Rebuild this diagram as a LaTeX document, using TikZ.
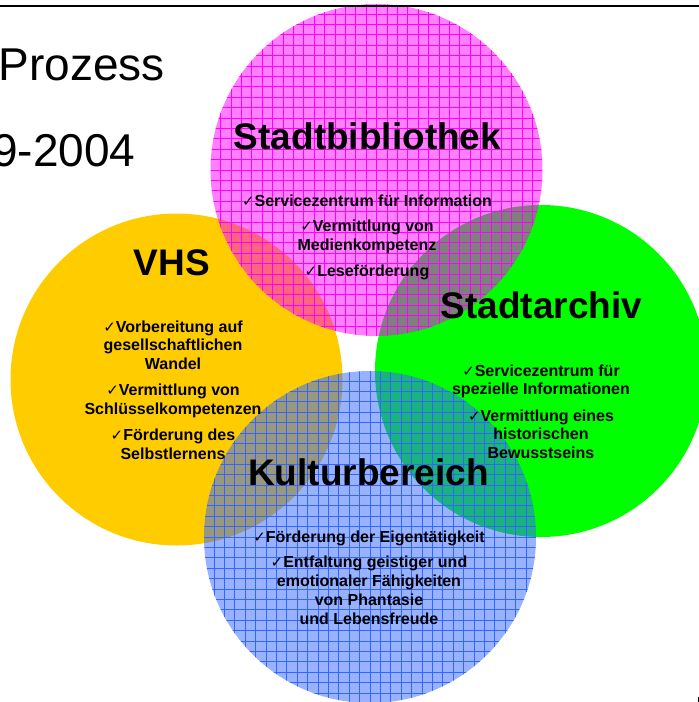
\documentclass[tikz,border=0pt]{standalone}
\usepackage{fontspec}
\setmainfont{Liberation Sans}
\newfontfamily\ckfont{DejaVu Sans}
\usetikzlibrary{positioning}
\definecolor{Gelb}{RGB}{255,204,0}
\definecolor{Gruen}{RGB}{0,255,0}
\definecolor{Pink}{RGB}{255,0,255}
\definecolor{Blau}{RGB}{51,102,255}
\newcommand{\ck}{{\ckfont\fontsize{15}{15}\selectfont ✓}}

\begin{document}
\begin{tikzpicture}[x=1pt,y=-1pt,
    kreis/.style={circle,inner sep=0pt,minimum size=332pt},
    gitter/.style={fill=#1,fill opacity=0.5,path picture={\draw[#1,line width=0.7pt,step=10.4pt] (path picture bounding box.south west) grid (path picture bounding box.north east);}},
    titel/.style={anchor=base,font=\fontsize{37}{40}\selectfont\bfseries},
    liste/.style={anchor=north,inner sep=0pt,align=center,font=\fontsize{16}{18.7}\selectfont\bfseries},
    kopf/.style={anchor=base west,inner sep=0pt,font=\fontsize{46}{50}\selectfont}
  ]
  \useasboundingbox (0,0) rectangle (699,702);
  \node[kreis,fill=Gelb] (vhs) at (176.5,379.5) {};
  \node[kreis,fill=Gruen] (arch) at (541,371) {};
  \node[kreis,gitter=Pink] (bib) at (376.5,170) {};
  \node[kreis,gitter=Blau] (kult) at (370,537) {};
  \draw[line width=2pt] (0,6) -- (699,6);
  \draw[line width=1.3pt] (698.3,697) -- (698.3,702);
  \node[kopf] (proz) at (-1.5,80) {Prozess};
  \node[kopf] (jahr) at (-8,166) {9-2004};
  \node[titel] (bibT) at (367.5,149) {Stadtbibliothek};
  \node[titel] (vhsT) at (172,275) {VHS};
  \node[titel] (archT) at (541.5,318) {Stadtarchiv};
  \node[titel] (kultT) at (368.5,485) {Kulturbereich};
  \node[liste] (bibL) at (367,191) {\rule{0pt}{15pt}\ck Servicezentrum für Information\\[7pt]\ck Vermittlung von\\Medienkompetenz\\[7pt]\ck Leseförderung};
  \node[liste] (vhsL) at (173,317) {\rule{0pt}{15pt}\ck Vorbereitung auf\\gesellschaftlichen\\Wandel\\[7.5pt]\ck Vermittlung von\\Schlüsselkompetenzen\\[7.5pt]\ck Förderung des\\Selbstlernens};
  \node[liste] (archL) at (541,361) {\rule{0pt}{15pt}\ck Servicezentrum für\\spezielle Informationen\\[7.5pt]\ck Vermittlung eines\\historischen\\Bewusstseins};
  \node[liste] (kultL) at (369,527) {\rule{0pt}{15pt}\ck Förderung der Eigentätigkeit\\[7pt]\ck Entfaltung geistiger und\\emotionaler Fähigkeiten\\von Phantasie\\und Lebensfreude};
\end{tikzpicture}
\end{document}
